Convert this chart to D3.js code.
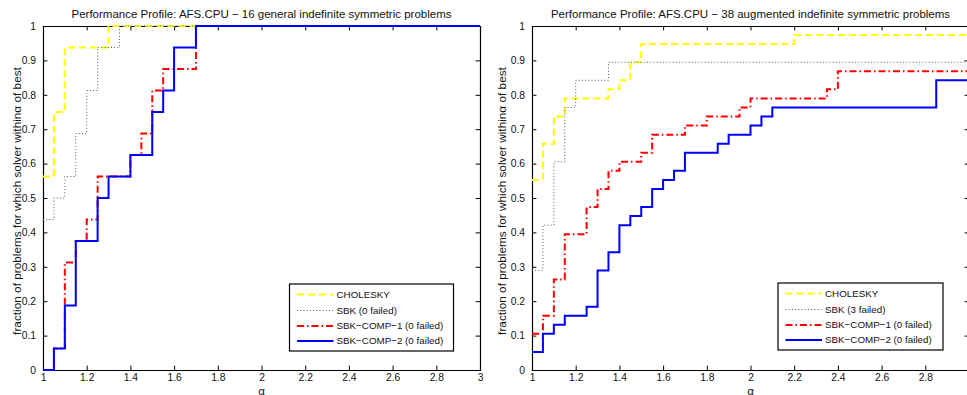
<!DOCTYPE html>
<html>
<head>
<meta charset="utf-8">
<script src="https://cdn.jsdelivr.net/npm/d3@7"></script>
<style>
  html, body { margin: 0; padding: 0; background: #fff; }
  svg { display: block; font-family: "Liberation Sans", Arial, Helvetica, sans-serif; }
</style>
</head>
<body>
<svg id="chart" width="967" height="395"></svg>
<script>
// ---- shared axis ticks ----
const alphaTicks = [1, 1.2, 1.4, 1.6, 1.8, 2, 2.2, 2.4, 2.6, 2.8, 3];
const fractionTicks = [0, 0.1, 0.2, 0.3, 0.4, 0.5, 0.6, 0.7, 0.8, 0.9, 1];
const alphaTickLabels = ["1", "1.2", "1.4", "1.6", "1.8", "2", "2.2", "2.4", "2.6", "2.8", "3"];
const fractionTickLabels = ["0", "0.1", "0.2", "0.3", "0.4", "0.5", "0.6", "0.7", "0.8", "0.9", "1"];
const xLabel = "α";
const yLabel = "fraction of problems for which solver withinα of best";

// ---- left panel: 16 general indefinite symmetric problems ----
const generalTitle = "Performance Profile: AFS.CPU − 16 general indefinite symmetric problems";
const generalProblems = 16;
const generalLegend = ["CHOLESKY", "SBK (0 failed)", "SBK−COMP−1 (0 failed)", "SBK−COMP−2 (0 failed)"];
// alpha where each step starts, and number of problems solved within that alpha
const generalCholeskyAlpha = [1, 1.05, 1.1, 1.3];
const generalCholeskyCount = [9, 12, 15, 16];
const generalSbkAlpha = [1, 1.05, 1.1, 1.15, 1.2, 1.25, 1.35];
const generalSbkCount = [7, 8, 9, 11, 13, 15, 16];
const generalComp1Alpha = [1, 1.05, 1.1, 1.15, 1.2, 1.25, 1.4, 1.45, 1.5, 1.55, 1.7];
const generalComp1Count = [0, 1, 5, 6, 7, 9, 10, 11, 13, 14, 16];
const generalComp2Alpha = [1, 1.05, 1.1, 1.15, 1.25, 1.3, 1.4, 1.5, 1.55, 1.6, 1.7];
const generalComp2Count = [0, 1, 3, 6, 8, 9, 10, 12, 13, 15, 16];

// ---- right panel: 38 augmented indefinite symmetric problems ----
const augmentedTitle = "Performance Profile: AFS.CPU − 38 augmented indefinite symmetric problems";
const augmentedProblems = 38;
const augmentedLegend = ["CHOLESKY", "SBK (3 failed)", "SBK−COMP−1 (0 failed)", "SBK−COMP−2 (0 failed)"];
const augmentedCholeskyAlpha = [1, 1.05, 1.1, 1.15, 1.35, 1.4, 1.45, 1.5, 2.2];
const augmentedCholeskyCount = [21, 25, 28, 30, 31, 32, 34, 36, 37];
const augmentedSbkAlpha = [1, 1.05, 1.1, 1.15, 1.2, 1.35];
const augmentedSbkCount = [11, 16, 23, 29, 32, 34];
const augmentedComp1Alpha = [1, 1.05, 1.1, 1.15, 1.25, 1.3, 1.35, 1.4, 1.5, 1.55, 1.7, 1.8, 1.95, 2, 2.35, 2.4];
const augmentedComp1Count = [4, 6, 10, 15, 18, 20, 22, 23, 24, 26, 27, 28, 29, 30, 31, 33];
const augmentedComp2Alpha = [1, 1.05, 1.1, 1.15, 1.25, 1.3, 1.35, 1.4, 1.45, 1.5, 1.55, 1.6, 1.65, 1.7, 1.85, 1.9, 2, 2.05, 2.1, 2.85];
const augmentedComp2Count = [2, 4, 5, 6, 7, 11, 13, 16, 17, 18, 20, 21, 22, 24, 25, 26, 27, 28, 29, 32];

// ---- line styles, in plotting order (last one drawn on top) ----
const solverStyles = [
  { color: "#ffff00", width: 2, dash: "7,4" },
  { color: "#555555", width: 1, dash: "1,2.2" },
  { color: "#ff0000", width: 2, dash: "7,3,1.5,3" },
  { color: "#0000ff", width: 2, dash: null }
];

const panels = [
  {
    id: "general", title: generalTitle, total: generalProblems, legend: generalLegend,
    series: [
      [generalCholeskyAlpha, generalCholeskyCount],
      [generalSbkAlpha, generalSbkCount],
      [generalComp1Alpha, generalComp1Count],
      [generalComp2Alpha, generalComp2Count]
    ],
    box: { left: 43, right: 480, top: 26, bottom: 370 },
    yLabelX: 17,
    legendBox: { x: 289.5, y: 284, w: 164, h: 67 }
  },
  {
    id: "augmented", title: augmentedTitle, total: augmentedProblems, legend: augmentedLegend,
    series: [
      [augmentedCholeskyAlpha, augmentedCholeskyCount],
      [augmentedSbkAlpha, augmentedSbkCount],
      [augmentedComp1Alpha, augmentedComp1Count],
      [augmentedComp2Alpha, augmentedComp2Count]
    ],
    box: { left: 532, right: 969, top: 26, bottom: 370 },
    yLabelX: 502,
    legendBox: { x: 778, y: 283, w: 165, h: 67 }
  }
];

const svg = d3.select("#chart");
const textColor = "#111";
const tickLen = 4.4;

panels.forEach(p => {
  const b = p.box;
  const x = d3.scaleLinear().domain([1, 3]).range([b.left, b.right]);
  const y = d3.scaleLinear().domain([0, 1]).range([b.bottom, b.top]);
  const g = svg.append("g").attr("class", "panel-" + p.id);

  // title
  g.append("text")
    .attr("x", (b.left + b.right) / 2).attr("y", 18)
    .attr("text-anchor", "middle")
    .attr("font-size", 11.5).attr("fill", textColor)
    .text(p.title);

  // axes frame with inward ticks on all four sides
  const axisStyle = sel => {
    sel.select(".domain").attr("stroke", "#000").attr("stroke-width", 1.2);
    sel.selectAll(".tick line").attr("stroke", "#000").attr("stroke-width", 1);
  };
  const bottomAxis = d3.axisBottom(x).tickValues(alphaTicks)
    .tickFormat((d, i) => alphaTickLabels[i]).tickSizeInner(-tickLen).tickSizeOuter(0).tickPadding(3.5);
  const topAxis = d3.axisTop(x).tickValues(alphaTicks).tickFormat("").tickSizeInner(-tickLen).tickSizeOuter(0);
  const leftAxis = d3.axisLeft(y).tickValues(fractionTicks)
    .tickFormat((d, i) => fractionTickLabels[i]).tickSizeInner(-tickLen).tickSizeOuter(0).tickPadding(7);
  const rightAxis = d3.axisRight(y).tickValues(fractionTicks).tickFormat("").tickSizeInner(-tickLen).tickSizeOuter(0);

  const gb = g.append("g").attr("transform", `translate(0,${b.bottom})`).call(bottomAxis).call(axisStyle);
  g.append("g").attr("transform", `translate(0,${b.top})`).call(topAxis).call(axisStyle);
  const gl = g.append("g").attr("transform", `translate(${b.left},0)`).call(leftAxis).call(axisStyle);
  g.append("g").attr("transform", `translate(${b.right},0)`).call(rightAxis).call(axisStyle);
  [gb, gl].forEach(a => a.selectAll(".tick text")
    .attr("font-family", "Liberation Sans, Arial, sans-serif")
    .attr("font-size", 10.3).attr("fill", textColor));
  g.selectAll(".domain").attr("stroke-linecap", "square");

  // axis labels
  g.append("text")
    .attr("x", (b.left + b.right) / 2).attr("y", 394.5)
    .attr("text-anchor", "middle").attr("font-size", 11.5).attr("fill", textColor)
    .text(xLabel);
  g.append("text")
    .attr("transform", `translate(${p.yLabelX},201) rotate(-90)`)
    .attr("dy", "0.35em")
    .attr("text-anchor", "middle").attr("font-size", 11.8).attr("fill", textColor)
    .text(yLabel);

  // clip profiles to the plotting area
  const clipId = "clip-" + p.id;
  svg.append("clipPath").attr("id", clipId).append("rect")
    .attr("x", b.left - 2).attr("y", b.top - 2)
    .attr("width", b.right - b.left + 4).attr("height", b.bottom - b.top + 4);

  const line = d3.line().x(d => x(d[0])).y(d => y(d[1])).curve(d3.curveStepAfter);
  const lines = g.append("g").attr("clip-path", `url(#${clipId})`);
  p.series.forEach((s, k) => {
    const [alphas, counts] = s;
    const pts = alphas.map((a, i) => [a, counts[i] / p.total]);
    pts.push([3, counts[counts.length - 1] / p.total]);
    const st = solverStyles[k];
    lines.append("path")
      .attr("d", line(pts))
      .attr("fill", "none")
      .attr("stroke", st.color)
      .attr("stroke-width", st.width)
      .attr("stroke-dasharray", st.dash)
      .attr("stroke-linejoin", "miter");
  });

  // legend
  const L = p.legendBox;
  const lg = g.append("g");
  lg.append("rect").attr("x", L.x).attr("y", L.y).attr("width", L.w).attr("height", L.h)
    .attr("fill", "#fff").attr("stroke", "#000").attr("stroke-width", 1.2);
  const rows = [10.5, 26.5, 42, 57];
  p.legend.forEach((name, k) => {
    const st = solverStyles[k];
    const ry = L.y + rows[k];
    lg.append("line")
      .attr("x1", L.x + 7.5).attr("x2", L.x + 44).attr("y1", ry).attr("y2", ry)
      .attr("stroke", st.color).attr("stroke-width", st.width).attr("stroke-dasharray", st.dash);
    lg.append("text")
      .attr("x", L.x + 47).attr("y", ry).attr("dy", "0.35em")
      .attr("font-size", 9.8).attr("fill", textColor)
      .text(name);
  });
});
</script>
</body>
</html>
